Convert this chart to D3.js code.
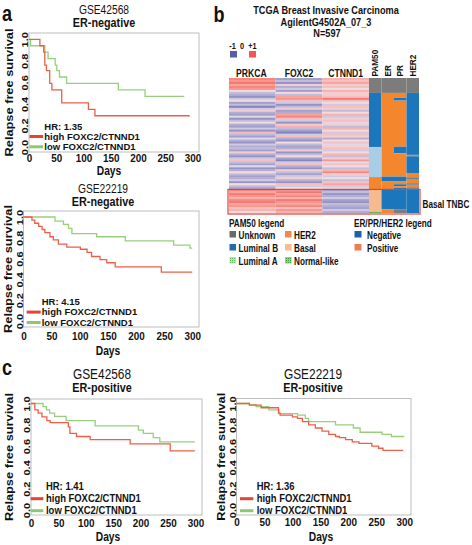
<!DOCTYPE html>
<html><head><meta charset="utf-8">
<script src="https://cdn.jsdelivr.net/npm/d3@7"></script>
<style>html,body{margin:0;padding:0;background:#fff;} svg{display:block;}</style>
</head><body>
<svg id="fig" width="472" height="545"></svg>
<script>
// ---------- DATA ----------
const dayTicks = [0, 50, 100, 150, 200, 250, 300];
const survTicks = [0, 0.2, 0.4, 0.6, 0.8, 1.0];
const legendHigh = "high FOXC2/CTNND1";
const legendLow = "low FOXC2/CTNND1";

// Panel a (top): GSE42568 ER-negative, HR 1.35
const a1HighT = [0, 20, 27, 29, 32, 38, 42, 60, 109, 121, 295];
const a1HighS = [1, 0.94, 0.88, 0.76, 0.71, 0.59, 0.53, 0.41, 0.35, 0.29, 0.29];
const a1LowT  = [0, 3, 29, 35, 48, 51, 56, 69, 164, 213, 285];
const a1LowS  = [1, 0.94, 0.88, 0.82, 0.76, 0.71, 0.65, 0.59, 0.53, 0.47, 0.47];
// Panel a (bottom): GSE22219 ER-negative, HR 4.15
const a2HighT = [0, 15, 20, 27, 33, 38, 47, 53, 62, 77, 101, 113, 121, 136, 148, 163, 245, 300];
const a2HighS = [1, 0.97, 0.94, 0.91, 0.88, 0.85, 0.81, 0.78, 0.74, 0.71, 0.69, 0.66, 0.62, 0.59, 0.56, 0.52, 0.47, 0.47];
const a2LowT  = [0, 56, 71, 80, 86, 130, 181, 267, 296, 300];
const a2LowS  = [1, 0.96, 0.93, 0.89, 0.84, 0.81, 0.77, 0.73, 0.70, 0.70];
// Panel c (left): GSE42568 ER-positive, HR 1.41
const c1HighT = [0, 7, 13, 20, 29, 35, 68, 71, 83, 108, 181, 254, 299];
const c1HighS = [1, 0.94, 0.91, 0.875, 0.84, 0.82, 0.78, 0.72, 0.69, 0.66, 0.62, 0.555, 0.555];
const c1LowT  = [0, 22, 28, 34, 43, 64, 117, 196, 205, 223, 235, 299];
const c1LowS  = [1, 0.97, 0.94, 0.91, 0.88, 0.84, 0.79, 0.75, 0.72, 0.68, 0.64, 0.64];
// Panel c (right): GSE22219 ER-positive, HR 1.36
const c2HighT = [0, 23, 44, 75, 78, 100, 109, 118, 129, 141, 153, 165, 177, 184, 195, 207, 219, 242, 254, 262, 298];
const c2HighS = [1, 0.985, 0.96, 0.91, 0.89, 0.875, 0.86, 0.83, 0.80, 0.77, 0.74, 0.71, 0.69, 0.68, 0.66, 0.64, 0.625, 0.60, 0.58, 0.56, 0.56];
const c2LowT  = [0, 23, 35, 58, 76, 109, 123, 129, 177, 209, 221, 260, 277, 300];
const c2LowS  = [1, 0.99, 0.97, 0.94, 0.905, 0.89, 0.86, 0.83, 0.80, 0.77, 0.73, 0.71, 0.69, 0.69];

// Panel b: heatmap (row bands, ordered top to bottom), z-scores -1..+1
const genes = ["PRKCA", "FOXC2", "CTNND1"];
const prkca = [0.7,0.6,0.8,0.5,0.7,0.6,0.1,-0.3,
  -0.4,-0.6,-0.2,0.1,-0.5,-0.3,-0.7,-0.2,0.2,-0.4,-0.5,-0.1,-0.6,-0.3,0.1,-0.4,-0.5,-0.2,-0.6,0.3,-0.3,-0.5,-0.1,-0.4,-0.6,-0.2,-0.4,
  -0.3,-0.5,0.2,-0.4,-0.6,-0.2,0.3,-0.3,-0.5,-0.1,-0.6,-0.4,0.1,-0.3,-0.5,
  -0.4,-0.2,-0.6,0.1,-0.3,-0.5,
  0.7,0.5,0.8,0.6,0.4,0.7,0.8,0.5,0.6,0.3,0.4,0.1];
const foxc2 = [-0.5,-0.3,-0.6,0.2,-0.4,-0.2,-0.5,0.1,
  -0.3,0.5,0.6,0.3,-0.2,-0.6,-0.3,0.2,-0.5,-0.4,0.5,0.7,0.3,-0.2,-0.6,0.2,0.4,-0.3,-0.5,-0.7,-0.2,0.3,-0.4,-0.6,0.1,-0.3,-0.5,
  -0.4,0.2,-0.6,-0.3,0.1,-0.5,-0.7,-0.2,0.3,-0.4,-0.6,0.2,-0.3,-0.5,-0.2,
  0.2,-0.4,-0.6,0.3,-0.2,0.1,
  0.6,0.8,0.5,0.7,0.4,0.8,0.6,0.5,0.7,0.3,0.6,0.4];
const ctnnd1 = [0.4,0.3,0.5,0.2,0.3,0.1,0.4,0.2,
  0.2,0.3,0.8,0.3,0.1,-0.2,0.3,0.2,-0.3,0.1,0.4,-0.2,0.2,0.3,-0.1,0.2,-0.3,0.4,0.1,-0.2,0.3,0.2,-0.4,0.1,0.3,-0.1,0.2,
  0.3,-0.2,0.1,0.4,-0.3,0.2,0.6,-0.1,0.3,0.1,-0.3,0.4,0.7,0.2,-0.2,
  0.1,-0.3,0.3,0.5,-0.2,0.2,
  -0.5,-0.3,-0.6,-0.4,-0.2,-0.5,-0.6,-0.3,-0.4,-0.5,-0.2,-0.4];
const nSamples = 597;
const annCols = ["PAM50", "ER", "PR", "HER2"];
const pam50Start = [0, 66, 305, 438, 495, 592];
const pam50Type  = ["Unknown", "Luminal B", "Luminal A", "HER2", "Basal", "Normal-like"];
const erStart = [0, 66, 436, 458, 495, 580];
const erType  = ["Unknown", "Positive", "Negative", "Positive", "Negative", "Positive"];
const prStart = [0, 66, 88, 100, 304, 333, 436, 458, 470, 478, 486, 580];
const prType  = ["Unknown", "Positive", "Negative", "Positive", "Negative", "Positive", "Negative", "Positive", "Negative", "Positive", "Negative", "Unknown"];
const her2Start = [0, 66, 340, 346, 420, 440, 446, 466, 472, 484, 490, 495];
const her2Type  = ["Unknown", "Negative", "Positive", "Negative", "Positive", "Negative", "Positive", "Negative", "Positive", "Negative", "Positive", "Negative"];
const basalStart = 495;
const pam50Legend = [["Unknown", "HER2"], ["Luminal B", "Basal"], ["Luminal A", "Normal-like"]];
const statusLegend = ["Negative", "Positive"];

// ---------- DRAW ----------
const SX = 0.82;
const FONT = "'Liberation Sans', Arial, Helvetica, sans-serif";
const svg = d3.select("#fig").attr("font-family", FONT);
const defs = svg.append("defs");
function dotPattern(id, bg, dot) {
  const p = defs.append("pattern").attr("id", id).attr("width", 2).attr("height", 2).attr("patternUnits", "userSpaceOnUse");
  p.append("rect").attr("width", 2).attr("height", 2).attr("fill", bg);
  p.append("rect").attr("width", 1).attr("height", 1).attr("fill", dot);
}
dotPattern("dotsA", "#b9e3b0", "#5cb85c");
dotPattern("dotsN", "#8fd08a", "#3f9a3f");

function T(g, x, y, s, o = {}) {
  return g.append("text")
    .attr("transform", `translate(${x},${y}) scale(${o.sx ?? SX},1)` + (o.rot ? ` rotate(${o.rot})` : ""))
    .attr("font-size", o.size || 10)
    .attr("font-weight", o.w || "bold")
    .attr("text-anchor", o.anchor || "start")
    .attr("fill", o.fill || "#111")
    .text(s);
}

const RED = "#ee5f4a", GREEN = "#98cf7c";
const RED_L = "#e8432f", GREEN_L = "#8dc86f";

function kmPanel(p) {
  const g = svg.append("g");
  const x = d3.scaleLinear().domain([0, 312]).range([p.l, p.r]);
  const y = d3.scaleLinear().domain([0, 1]).range([p.y0, p.y1]);
  g.append("rect").attr("x", p.l).attr("y", p.t).attr("width", p.r - p.l).attr("height", p.b - p.t)
    .attr("fill", "none").attr("stroke", "#bdbdbd").attr("stroke-width", 1);
  const ax = g.append("g").attr("transform", `translate(0,${p.b})`)
    .call(d3.axisBottom(x).tickValues(dayTicks).tickSize(0).tickFormat(d3.format("d")));
  ax.select(".domain").remove();
  ax.attr("font-family", FONT).attr("font-size", 11.5).attr("font-weight", "bold");
  ax.selectAll("text").attr("y", p.xtk).attr("dy", 0).attr("fill", "#111").attr("transform", `scale(0.86,1)`);
  const ay = g.append("g").attr("transform", `translate(${p.l},0)`)
    .call(d3.axisLeft(y).tickValues(survTicks).tickSize(0).tickFormat(d3.format(".1f")));
  ay.select(".domain").remove();
  ay.attr("font-family", FONT).attr("font-size", 11).attr("font-weight", "bold");
  ay.selectAll("text").attr("x", 0).attr("dy", 0).attr("text-anchor", "middle").attr("fill", "#111")
    .attr("transform", `translate(-1,0) scale(${SX},1) rotate(-90)`);
  const line = d3.line().x(d => x(d[0])).y(d => y(d[1])).curve(d3.curveStepAfter);
  g.append("path").datum(d3.zip(p.lowT, p.lowS)).attr("d", line).attr("fill", "none").attr("stroke", GREEN).attr("stroke-width", 1.3);
  g.append("path").datum(d3.zip(p.highT, p.highS)).attr("d", line).attr("fill", "none").attr("stroke", RED).attr("stroke-width", 1.3);
  // titles
  T(g, p.tx, p.ty1, p.title, { size: p.tsize, w: "normal", anchor: "middle" });
  T(g, p.tx, p.ty2, p.sub, { size: 12, anchor: "middle", sx: 0.9 });
  T(g, p.yl, (p.t + p.b) / 2, "Relapse free survival", { size: 12.8, anchor: "middle", rot: -90 });
  T(g, p.dx, p.dy, "Days", { size: 12.5, anchor: "middle" });
  // legend
  const sp = p.lsp, fs = p.lfs;
  T(g, p.lgx, p.lgy, "HR: " + p.hr, { size: fs, sx: p.lsx });
  T(g, p.lgx, p.lgy + sp, legendHigh, { size: fs, sx: p.lsx });
  T(g, p.lgx, p.lgy + 2 * sp, legendLow, { size: fs, sx: p.lsx });
  g.append("line").attr("x1", p.lx0).attr("x2", p.lx1).attr("y1", p.lgy + sp - 3.3).attr("y2", p.lgy + sp - 3.3).attr("stroke", RED_L).attr("stroke-width", 3);
  g.append("line").attr("x1", p.lx0).attr("x2", p.lx1).attr("y1", p.lgy + 2 * sp - 3.3).attr("y2", p.lgy + 2 * sp - 3.3).attr("stroke", GREEN_L).attr("stroke-width", 3);
}

kmPanel({ l: 29, r: 199, t: 33, b: 152, y0: 147, y1: 39.3, xtk: 9.5, highT: a1HighT, highS: a1HighS, lowT: a1LowT, lowS: a1LowS,
  title: "GSE42568", sub: "ER-negative", tsize: 12.5, tx: 104, ty1: 13.5, ty2: 26.5, yl: 12.5, dx: 109, dy: 175,
  hr: "1.35", lgx: 44.3, lgy: 129.5, lx0: 29.5, lx1: 43, lsp: 10.3, lfs: 9.5, lsx: 1.0 });
kmPanel({ l: 23.5, r: 199, t: 211, b: 327, y0: 321, y1: 217, xtk: 13.5, highT: a2HighT, highS: a2HighS, lowT: a2LowT, lowS: a2LowS,
  title: "GSE22219", sub: "ER-negative", tsize: 12.5, tx: 103, ty1: 192.5, ty2: 205.5, yl: 11.5, dx: 108, dy: 354.5,
  hr: "4.15", lgx: 41.7, lgy: 305, lx0: 26.7, lx1: 40.7, lsp: 10.4, lfs: 9.5, lsx: 1.0 });
kmPanel({ l: 31, r: 202, t: 399, b: 515, y0: 510, y1: 403.5, xtk: 12, highT: c1HighT, highS: c1HighS, lowT: c1LowT, lowS: c1LowS,
  title: "GSE42568", sub: "ER-positive", tsize: 14.5, tx: 102, ty1: 378.5, ty2: 392, yl: 13, dx: 108, dy: 541,
  hr: "1.41", lgx: 46, lgy: 490, lx0: 30.7, lx1: 43.3, lsp: 12, lfs: 10.5, lsx: 0.9 });
kmPanel({ l: 236.5, r: 411, t: 398.5, b: 515, y0: 510, y1: 403.5, xtk: 11.5, highT: c2HighT, highS: c2HighS, lowT: c2LowT, lowS: c2LowS,
  title: "GSE22219", sub: "ER-positive", tsize: 14.5, tx: 313, ty1: 378.5, ty2: 392, yl: 224.8, dx: 321, dy: 540.5,
  hr: "1.36", lgx: 256.7, lgy: 490, lx0: 240, lx1: 253.3, lsp: 12, lfs: 10.5, lsx: 0.9 });

// panel letters
T(svg, 2, 21, "a", { size: 22 });
T(svg, 213.5, 22, "b", { size: 22 });
T(svg, 2, 375, "c", { size: 22 });

// ---------- Panel b: heatmap ----------
const hb = svg.append("g");
T(hb, 326, 14, "TCGA Breast Invasive Carcinoma", { size: 11.2 });
hb.select("text:last-child").attr("text-anchor", "middle");
T(hb, 326, 25.8, "AgilentG4502A_07_3", { size: 11.2, anchor: "middle" });
T(hb, 327, 37.2, "N=597", { size: 11.2, anchor: "middle" });

const heat = d3.scaleLinear().domain([-1, 0, 1]).range(["#5a5da6", "#ece8f0", "#ef5753"]).interpolate(d3.interpolateLab);
// color key
const keyX = d3.scalePoint().domain([-1, 0, 1]).range([233.5, 252.5]);
[-1, 0, 1].forEach(v => {
  T(hb, keyX(v) + (v === 1 ? 0 : -1), 48.5, v === 1 ? "+1" : String(v), { size: 9, anchor: "middle" });
  if (v !== 0) hb.append("rect").attr("x", keyX(v) - 3.5).attr("y", 51).attr("width", 7).attr("height", 6.5).attr("fill", heat(v));
});

const rowY = d3.scaleBand().domain(d3.range(prkca.length)).range([78, 213]);
const geneX = d3.scaleBand().domain(genes).range([229, 369]);
const annX = d3.scaleBand().domain(annCols).range([369, 419]);
const sampY = d3.scaleLinear().domain([0, nSamples]).range([78, 213]);
const geneVals = { PRKCA: prkca, FOXC2: foxc2, CTNND1: ctnnd1 };
genes.forEach(gn => {
  hb.append("g").selectAll("rect").data(geneVals[gn]).join("rect")
    .attr("x", geneX(gn)).attr("width", geneX.bandwidth())
    .attr("y", (d, i) => rowY(i)).attr("height", rowY.bandwidth() + 0.4)
    .attr("fill", d => heat(d));
  T(hb, geneX(gn) + geneX.bandwidth() / 2 + (gn === "PRKCA" ? -1 : 0), 76.5, gn, { size: 10.5, anchor: "middle" });
});
const annColor = { "Unknown": "#7c7c7c", "Luminal B": "#1b76bc", "Luminal A": "#a8cde6", "HER2": "#f4862e",
  "Basal": "#f7ba8e", "Normal-like": "#5cb85c", "Negative": "#1b76bc", "Positive": "#f4862e" };
const annData = { PAM50: [pam50Start, pam50Type], ER: [erStart, erType], PR: [prStart, prType], HER2: [her2Start, her2Type] };
annCols.forEach(c => {
  const [st, ty] = annData[c];
  const segs = st.map((s, i) => ({ s, e: i + 1 < st.length ? st[i + 1] : nSamples, t: ty[i] }));
  hb.append("g").selectAll("rect").data(segs).join("rect")
    .attr("x", annX(c)).attr("width", annX.bandwidth())
    .attr("y", d => sampY(d.s)).attr("height", d => sampY(d.e) - sampY(d.s))
    .attr("fill", d => annColor[d.t]);
  T(hb, annX(c) + annX.bandwidth() / 2 + 3, 76.5, c, { size: 8.2, rot: -90, sx: 1 });
});
// Basal TNBC box
hb.append("rect").attr("x", geneX.range()[0] - 1).attr("y", sampY(basalStart) - 0.5)
  .attr("width", annX.range()[1] - geneX.range()[0] + 2).attr("height", sampY(nSamples) - sampY(basalStart) + 1.5)
  .attr("fill", "none").attr("stroke", "#e0443c").attr("stroke-width", 1.2);
T(hb, 422.5, 207.5, "Basal TNBC", { size: 10 });

// legends
T(hb, 229, 227, "PAM50 legend", { size: 10 });
const legColor = { "Unknown": "#6a6a6a", "Luminal B": "#1f6db0", "Luminal A": "url(#dotsA)", "HER2": "#ef8a4c",
  "Basal": "#f5bb91", "Normal-like": "url(#dotsN)", "Negative": "#1b62a6", "Positive": "#ee7f52" };
const legRow = d3.scaleLinear().domain([0, 1]).range([231, 244]);
const legColX = [229.5, 285];
pam50Legend.forEach((row, r) => row.forEach((lab, c) => {
  hb.append("rect").attr("x", legColX[c]).attr("y", legRow(r)).attr("width", 6.5).attr("height", 6.5).attr("fill", legColor[lab]);
  T(hb, legColX[c] + 9, legRow(r) + 7.5, lab, { size: 10 });
}));
T(hb, 354, 227, "ER/PR/HER2 legend", { size: 10 });
statusLegend.forEach((lab, r) => {
  hb.append("rect").attr("x", 354.5).attr("y", legRow(r)).attr("width", 7).attr("height", 6.5).attr("fill", legColor[lab]);
  T(hb, 367, legRow(r) + 7.5, lab, { size: 10 });
});
</script>
</body></html>
